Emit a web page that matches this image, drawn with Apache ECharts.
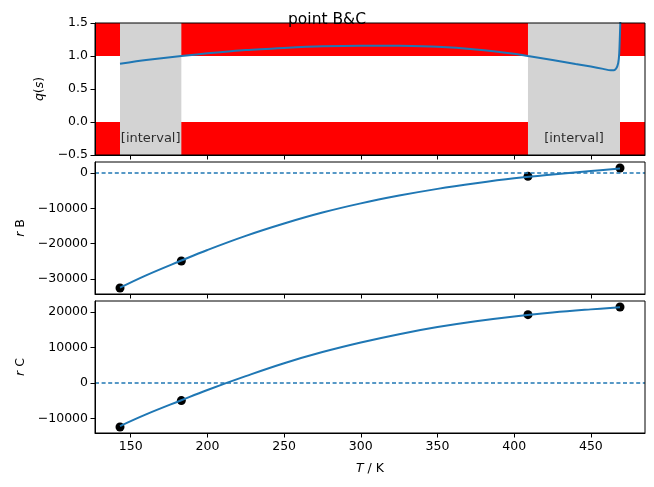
<!DOCTYPE html>
<html>
<head>
<meta charset="utf-8">
<script src="https://cdn.jsdelivr.net/npm/echarts@6/dist/echarts.min.js"></script>
<style>html,body{margin:0;padding:0;background:#fff;}#c{width:654px;height:487px;}</style>
</head>
<body>
<div id="c"></div>
<script>
// ---- data ----
const T_POINTS = [143, 183, 409, 469];
const R_B_POINTS = [-32580, -24930, -944, 1416];
const R_C_POINTS = [-12460, -5010, 19260, 21420];

const CURVE_T = [143, 160, 183, 200, 225, 250, 275, 300, 325, 350, 375, 400, 425, 450, 469];
const R_B_CURVE = [-32500, -29000, -24800, -21800, -17800, -14300, -11200, -8600, -6400, -4500, -2900, -1500, -400, 550, 1250];
const R_C_CURVE = [-12200, -8900, -4900, -2000, 1900, 5550, 8700, 11400, 13750, 15750, 17400, 18750, 19850, 20750, 21350];

const Q_T = [143, 160, 183, 200, 225, 250, 275, 300, 325, 350, 375, 400, 409, 425, 440, 450, 458, 463, 465, 466.5, 467.8, 468.5, 469.2, 469.4];
const Q_VALUES = [0.884, 0.94, 1.0, 1.04, 1.09, 1.122, 1.147, 1.157, 1.155, 1.141, 1.10, 1.035, 1.0, 0.94, 0.88, 0.84, 0.805, 0.783, 0.785, 0.81, 0.89, 1.04, 1.5, 1.7];

const INTERVALS = [[143, 183], [409, 469]];
const INTERVAL_LABEL = '[interval]';
const RED_BANDS = [[1.0, 1.5], [-0.5, 0.0]];

const X_TICKS = [150, 200, 250, 300, 350, 400, 450];
const Q_TICKS = [-0.5, 0.0, 0.5, 1.0, 1.5];
const RB_TICKS = [-30000, -20000, -10000, 0];
const RC_TICKS = [-10000, 0, 10000, 20000];

const TITLE = 'point B&C';

// ---- layout / style ----
const FONT = 'DejaVu Sans';
const BLUE = '#1f77b4';
const X_MIN = 126.7, X_MAX = 485.3;
const RB_MIN = -34280, RB_MAX = 3116;
const RC_MIN = -14154, RC_MAX = 23114;

const minus = s => String(s).replace(/-/g, '\u2212');
const tickFont = {fontFamily: FONT, fontSize: 12.5, color: '#000'};

function xAxisFor(gi, showLabels) {
  return {
    type: 'value', gridIndex: gi, min: X_MIN, max: X_MAX, z: 10,
    name: showLabels ? '{i|T} / K' : '', nameLocation: 'middle', nameGap: 29,
    nameTextStyle: {fontFamily: FONT, fontSize: 12.5, color: '#000',
      rich: {i: {fontFamily: FONT, fontSize: 12.5, fontStyle: 'italic', color: '#000'}}},
    axisLine: {show: true, onZero: false, lineStyle: {color: '#000', width: 1}},
    axisTick: {show: true, length: 4.5, customValues: X_TICKS, lineStyle: {color: '#000', width: 1}},
    axisLabel: {show: showLabels, customValues: X_TICKS, margin: 7, ...tickFont, formatter: v => minus(v)},
    splitLine: {show: false}
  };
}
function yAxisFor(gi, min, max, ticks, nameRich, fmt, gap) {
  return {
    type: 'value', gridIndex: gi, min: min, max: max, z: 10,
    name: nameRich, nameLocation: 'middle', nameRotate: 90, nameGap: gap,
    nameTextStyle: {fontFamily: FONT, fontSize: 12.5, color: '#000',
      rich: {i: {fontFamily: FONT, fontSize: 12.5, fontStyle: 'italic', color: '#000'}}},
    axisLine: {show: true, onZero: false, lineStyle: {color: '#000', width: 1}},
    axisTick: {show: true, length: 4.5, customValues: ticks, lineStyle: {color: '#000', width: 1}},
    axisLabel: {show: true, customValues: ticks, margin: 7, ...tickFont, formatter: fmt},
    splitLine: {show: false}
  };
}

const grids = [
  {left: 95, right: 9, top: 23, height: 132},
  {left: 95, right: 9, top: 162, height: 132},
  {left: 95, right: 9, top: 301, height: 132}
].map(g => Object.assign(g, {show: true, borderColor: '#000', borderWidth: 1, backgroundColor: 'transparent', z: 10}));

const series = [];
// red bands
series.push({
  type: 'line', xAxisIndex: 0, yAxisIndex: 0, data: [], z: 1, silent: true,
  markArea: {silent: true, itemStyle: {color: '#ff0000', opacity: 1},
    data: RED_BANDS.map(b => [{yAxis: b[0]}, {yAxis: b[1]}])}
});
// gray intervals
series.push({
  type: 'line', xAxisIndex: 0, yAxisIndex: 0, data: [], z: 2, silent: true,
  markArea: {silent: true, itemStyle: {color: '#d3d3d3', opacity: 1},
    data: INTERVALS.map(iv => [{xAxis: iv[0]}, {xAxis: iv[1]}])}
});
// interval labels
series.push({
  type: 'scatter', xAxisIndex: 0, yAxisIndex: 0, z: 3, symbolSize: 0, silent: true,
  data: INTERVALS.map(iv => [(iv[0] + iv[1]) / 2, -0.25]),
  label: {show: true, position: 'inside', formatter: INTERVAL_LABEL, fontFamily: FONT, fontSize: 13, color: '#000'}
});
// q curve
series.push({
  type: 'line', xAxisIndex: 0, yAxisIndex: 0, z: 4, showSymbol: false, smooth: 0.25,
  lineStyle: {color: BLUE, width: 2}, clip: true,
  data: Q_T.map((t, i) => [t, Q_VALUES[i]])
});
// r B
series.push({
  type: 'scatter', xAxisIndex: 1, yAxisIndex: 1, z: 3, symbolSize: 9, itemStyle: {color: '#000', opacity: 1},
  data: T_POINTS.map((t, i) => [t, R_B_POINTS[i]])
});
series.push({
  type: 'line', xAxisIndex: 1, yAxisIndex: 1, z: 4, showSymbol: false, smooth: 0.4,
  lineStyle: {color: BLUE, width: 2},
  data: CURVE_T.map((t, i) => [t, R_B_CURVE[i]]),
  markLine: {silent: true, symbol: ['none', 'none'], label: {show: false},
    lineStyle: {color: BLUE, width: 1.6, type: [4, 2.6]}, data: [{yAxis: 0}]}
});
// r C
series.push({
  type: 'scatter', xAxisIndex: 2, yAxisIndex: 2, z: 3, symbolSize: 9, itemStyle: {color: '#000', opacity: 1},
  data: T_POINTS.map((t, i) => [t, R_C_POINTS[i]])
});
series.push({
  type: 'line', xAxisIndex: 2, yAxisIndex: 2, z: 4, showSymbol: false, smooth: 0.4,
  lineStyle: {color: BLUE, width: 2},
  data: CURVE_T.map((t, i) => [t, R_C_CURVE[i]]),
  markLine: {silent: true, symbol: ['none', 'none'], label: {show: false},
    lineStyle: {color: BLUE, width: 1.6, type: [4, 2.6]}, data: [{yAxis: 0}]}
});

const chart = echarts.init(document.getElementById('c'), null, {renderer: 'canvas'});
chart.setOption({
  animation: false,
  backgroundColor: '#fff',
  title: {text: TITLE, left: 'center', top: 7, z: 20,
    textStyle: {fontFamily: FONT, fontSize: 15.5, fontWeight: 'normal', color: '#000'}},
  grid: grids,
  xAxis: [xAxisFor(0, false), xAxisFor(1, false), xAxisFor(2, true)],
  yAxis: [
    yAxisFor(0, -0.5, 1.5, Q_TICKS, '{i|q}({i|s})', v => minus(Number(v).toFixed(1)), 48),
    yAxisFor(1, RB_MIN, RB_MAX, RB_TICKS, '{i|r} B', v => minus(v), 47),
    yAxisFor(2, RC_MIN, RC_MAX, RC_TICKS, '{i|r} C', v => minus(v), 47)
  ],
  series: series
});
</script>
</body>
</html>
